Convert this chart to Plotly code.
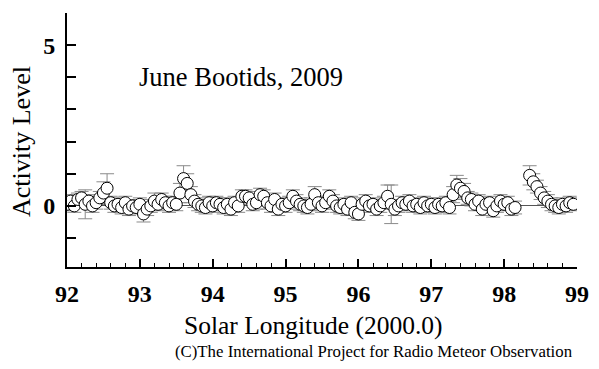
import plotly.graph_objects as go

longitude = [92.00, 92.05, 92.10, 92.15, 92.20, 92.25, 92.30, 92.35, 92.40, 92.45,
             92.50, 92.55, 92.60, 92.65, 92.70, 92.75, 92.80, 92.85, 92.90, 92.95,
             93.00, 93.05, 93.10, 93.15, 93.20, 93.25, 93.30, 93.35, 93.40, 93.45,
             93.50, 93.55, 93.60, 93.65, 93.70, 93.75, 93.80, 93.85, 93.90, 93.95,
             94.00, 94.05, 94.10, 94.15, 94.20, 94.25, 94.30, 94.35, 94.40, 94.45,
             94.50, 94.55, 94.60, 94.65, 94.70, 94.75, 94.80, 94.85, 94.90, 94.95,
             95.00, 95.05, 95.10, 95.15, 95.20, 95.25, 95.30, 95.35, 95.40, 95.45,
             95.50, 95.55, 95.60, 95.65, 95.70, 95.75, 95.80, 95.85, 95.90, 95.95,
             96.00, 96.05, 96.10, 96.15, 96.20, 96.25, 96.30, 96.35, 96.40, 96.45,
             96.50, 96.55, 96.60, 96.65, 96.70, 96.75, 96.80, 96.85, 96.90, 96.95,
             97.00, 97.05, 97.10, 97.15, 97.20, 97.25, 97.30, 97.35, 97.40, 97.45,
             97.50, 97.55, 97.60, 97.65, 97.70, 97.75, 97.80, 97.85, 97.90, 97.95,
             98.00, 98.05, 98.10, 98.15, 98.35, 98.40, 98.45, 98.50, 98.55, 98.60,
             98.65, 98.70, 98.75, 98.80, 98.85, 98.90, 98.95]

activity = [0.05, 0.15, 0.00, 0.20, 0.25, 0.05, 0.15, 0.00, 0.10, 0.25,
            0.40, 0.55, 0.10, 0.00, 0.05, -0.05, 0.10, -0.10, 0.00, -0.05,
            0.05, -0.25, -0.10, 0.00, 0.15, 0.05, 0.20, 0.10, 0.00, 0.10,
            0.05, 0.40, 0.85, 0.70, 0.35, 0.15, 0.05, 0.00, -0.05, 0.10,
            0.00, 0.10, 0.05, -0.05, 0.05, -0.10, 0.10, 0.00, 0.30, 0.30,
            0.25, 0.05, 0.10, 0.35, 0.30, 0.10, 0.00, 0.20, -0.10, 0.05,
            0.00, 0.10, 0.30, 0.15, 0.05, 0.00, -0.05, 0.05, 0.35, 0.10,
            0.00, 0.10, 0.30, 0.15, 0.00, -0.05, 0.05, -0.10, 0.10, -0.20,
            -0.25, 0.05, 0.15, 0.00, 0.05, -0.10, 0.00, 0.10, 0.30, 0.05,
            -0.10, 0.00, 0.10, 0.05, 0.15, 0.00, 0.05, -0.05, 0.10, 0.00,
            0.05, -0.05, 0.05, 0.00, 0.10, -0.05, 0.35, 0.65, 0.55, 0.45,
            0.25, 0.20, 0.05, 0.15, -0.10, 0.05, 0.10, -0.15, 0.00, 0.15,
            0.05, 0.10, -0.10, -0.05, 0.95, 0.75, 0.60, 0.40, 0.25, 0.15,
            0.05, 0.00, -0.05, 0.05, 0.00, 0.10, 0.05]

error = [0.20, 0.20, 0.20, 0.20, 0.20, 0.45, 0.20, 0.20, 0.20, 0.20,
         0.35, 0.45, 0.20, 0.20, 0.20, 0.20, 0.20, 0.20, 0.20, 0.20,
         0.20, 0.25, 0.20, 0.20, 0.25, 0.20, 0.20, 0.20, 0.20, 0.20,
         0.20, 0.30, 0.40, 0.30, 0.25, 0.20, 0.20, 0.20, 0.20, 0.20,
         0.20, 0.20, 0.20, 0.20, 0.20, 0.20, 0.20, 0.20, 0.20, 0.20,
         0.20, 0.20, 0.20, 0.20, 0.20, 0.20, 0.20, 0.20, 0.20, 0.20,
         0.20, 0.20, 0.20, 0.20, 0.20, 0.20, 0.20, 0.20, 0.25, 0.20,
         0.20, 0.20, 0.20, 0.20, 0.20, 0.20, 0.20, 0.20, 0.20, 0.20,
         0.20, 0.20, 0.20, 0.20, 0.20, 0.20, 0.20, 0.20, 0.35, 0.60,
         0.20, 0.20, 0.20, 0.20, 0.20, 0.20, 0.20, 0.20, 0.20, 0.20,
         0.20, 0.20, 0.20, 0.20, 0.20, 0.20, 0.25, 0.30, 0.30, 0.25,
         0.20, 0.20, 0.20, 0.20, 0.20, 0.20, 0.20, 0.20, 0.20, 0.20,
         0.20, 0.20, 0.20, 0.20, 0.30, 0.25, 0.20, 0.20, 0.20, 0.20,
         0.20, 0.20, 0.20, 0.20, 0.20, 0.20, 0.20]

x_ticks = [92, 93, 94, 95, 96, 97, 98, 99]
y_ticks = [-1, 0, 1, 2, 3, 4, 5]
y_tick_text = ["", "0", "", "", "", "", "5"]

SERIF = "Liberation Serif, Times New Roman, serif"

# page body has an 8px default margin, so the figure is drawn 8px smaller / shifted
OFF = 8
W, H = 599 - OFF, 369 - OFF
L, R, T, B = 67 - OFF, 22, 13 - OFF, 102
pw, ph = W - L - R, H - T - B


def px2paper(px, py):
    return (px - OFF - L) / pw, 1 - (py - OFF - T) / ph


fig = go.Figure()
fig.add_trace(go.Scatter(
    x=longitude, y=activity, mode="markers",
    marker=dict(symbol="circle", size=12, color="white",
                line=dict(color="black", width=1)),
    error_y=dict(type="data", array=error, visible=True,
                 color="#8a8a8a", thickness=1, width=7),
    showlegend=False,
))

ann = []
for text, (x, y), size, angle, anchor in [
    ("June Bootids, 2009", (137, 77), 26.5, 0, "left"),
    ("Solar Longitude (2000.0)", (313, 325), 25.5, 0, "center"),
    ("Activity Level", (21, 142), 26, -90, "center"),
    ("(C)The International Project for Radio Meteor Observation", (374, 351), 16.8, 0, "center"),
]:
    ax, ay = px2paper(x, y)
    ann.append(dict(text=text, x=ax, y=ay, xref="paper", yref="paper",
                    xanchor=anchor, yanchor="middle", textangle=angle,
                    showarrow=False, font=dict(size=size, family=SERIF)))

fig.update_layout(
    width=W, height=H,
    margin=dict(l=L, r=R, t=T, b=B, autoexpand=False),
    paper_bgcolor="white", plot_bgcolor="white",
    font=dict(family=SERIF, color="black"),
    xaxis=dict(
        range=[92, 99], tickvals=x_ticks, ticks="inside", ticklen=8,
        tickwidth=1.5, tickcolor="black", showline=True, linecolor="black",
        linewidth=2, showgrid=False, zeroline=False,
        tickfont=dict(size=24, family=SERIF, weight="bold"), ticklabelstandoff=4,
        minor=dict(dtick=0.2, ticks="inside", ticklen=4, tickwidth=1,
                   tickcolor="black", showgrid=False),
    ),
    yaxis=dict(
        range=[-1.9, 6], tickvals=y_ticks, ticktext=y_tick_text,
        ticks="inside", ticklen=9, tickwidth=1.5, tickcolor="black",
        showline=True, linecolor="black", linewidth=2, showgrid=False,
        zeroline=True, zerolinecolor="#555555", zerolinewidth=1,
        tickfont=dict(size=24, family=SERIF, weight="bold"), ticklabelstandoff=5,
    ),
    annotations=ann,
)

fig.write_html("out.html")
